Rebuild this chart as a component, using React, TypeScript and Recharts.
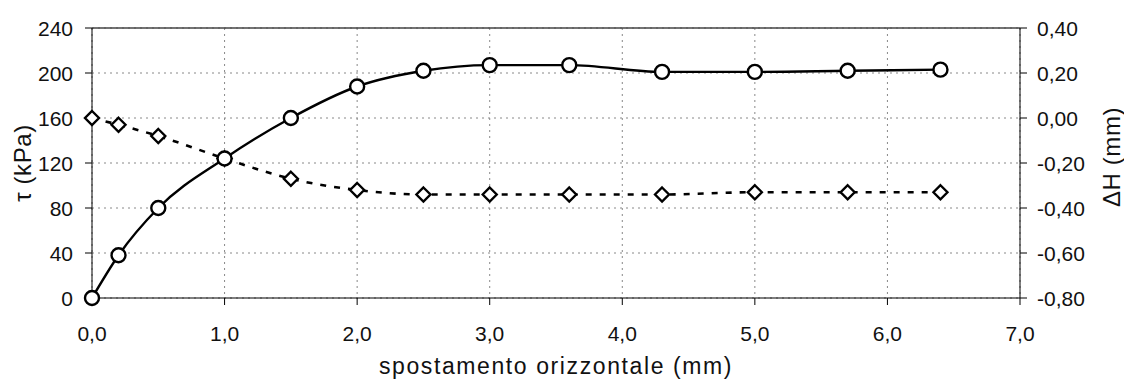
import { ComposedChart, Line, XAxis, YAxis, CartesianGrid, ReferenceLine } from 'recharts';

// spostamento orizzontale (mm)
const displacement = [0, 0.2, 0.5, 1.0, 1.5, 2.0, 2.5, 3.0, 3.6, 4.3, 5.0, 5.7, 6.4];
// tau (kPa)
const tau = [0, 38, 80, 124, 160, 188, 202, 207, 207, 201, 201, 202, 203];
// delta H (mm)
const deltaH = [0, -0.03, -0.08, -0.18, -0.27, -0.32, -0.34, -0.34, -0.34, -0.34, -0.33, -0.33, -0.33];

const xTicks = [0, 1, 2, 3, 4, 5, 6, 7];
const tauTicks = [0, 40, 80, 120, 160, 200, 240];
const dhTicks = [-0.8, -0.6, -0.4, -0.2, 0, 0.2, 0.4];

const data = displacement.map((x, i) => ({ x, tau: tau[i], dh: deltaH[i] }));

const font = '"Liberation Sans", Arial, sans-serif';

const comma = (v: number, d: number) => v.toFixed(d).replace('.', ',');

// tick text, drawn by hand so size and offset are exact
const Tick = (props: any) => {
    const { x, y, payload, side } = props;
    const v = payload.value as number;
    let label = '';
    let tx = x;
    let ty = y;
    let anchor: 'start' | 'middle' | 'end' = 'middle';
    if (side === 'bottom') { label = comma(v, 1); ty = y + 19; }
    if (side === 'left') { label = String(v); tx = x - 10; anchor = 'end'; }
    if (side === 'right') { label = comma(v, 2); tx = x + 8; anchor = 'start'; }
    return (
        <text
            x={tx}
            y={ty}
            textAnchor={anchor}
            dominantBaseline={side === 'bottom' ? 'hanging' : 'central'}
            style={{ fontFamily: font, fontSize: 21, fill: '#111' }}
        >
            {label}
        </text>
    );
};

const Title = (props: any) => {
    const { viewBox, text, side } = props;
    const vb = viewBox || { x: 0, y: 0, width: 0, height: 0 };
    let cx = vb.x + vb.width / 2;
    let cy = vb.y + vb.height / 2;
    let angle = 0;
    if (side === 'left') { cx = 22; angle = -90; }
    if (side === 'right') { cx = 1111; angle = -90; cy = cy - 6; }
    if (side === 'bottom') { cy = 366; }
    return (
        <text
            x={cx}
            y={cy}
            transform={angle ? `rotate(${angle} ${cx} ${cy})` : undefined}
            textAnchor="middle"
            dominantBaseline="central"
            style={{ fontFamily: font, fontSize: side === 'bottom' ? 23 : 24, letterSpacing: side === 'bottom' ? 1.6 : 0.6, fill: '#111' }}
        >
            {text}
        </text>
    );
};

const CircleDot = (props: any) => {
    const { cx, cy, index } = props;
    if (cx == null || cy == null) return <g key={`c-${index}`} />;
    return <circle key={`c-${index}`} cx={cx} cy={cy} r={7} fill="#fff" stroke="#000" strokeWidth={2.4} />;
};

const DiamondDot = (props: any) => {
    const { cx, cy, index } = props;
    if (cx == null || cy == null) return <g key={`d-${index}`} />;
    const s = 7;
    return (
        <path
            key={`d-${index}`}
            d={`M${cx},${cy - s}L${cx + s},${cy}L${cx},${cy + s}L${cx - s},${cy}Z`}
            fill="#fff"
            stroke="#000"
            strokeWidth={2.4}
        />
    );
};

export default function App() {
    return (
        <div style={{ position: 'absolute', left: 0, top: 0, background: '#fff' }}>
            <ComposedChart width={1124} height={383} data={data} margin={{ top: 28, right: 0, bottom: 45, left: 0 }}>
                <CartesianGrid yAxisId="left" stroke="#888" strokeDasharray="2 4" strokeWidth={1} />
                <XAxis
                    dataKey="x"
                    type="number"
                    domain={[0, 7]}
                    ticks={xTicks}
                    interval={0}
                    height={40}
                    tick={<Tick side="bottom" />}
                    tickSize={7}
                    stroke="#000"
                    label={<Title text="spostamento orizzontale (mm)" side="bottom" />}
                />
                <YAxis
                    yAxisId="left"
                    width={92}
                    domain={[0, 240]}
                    ticks={tauTicks}
                    tick={<Tick side="left" />}
                    tickSize={7}
                    stroke="#000"
                    interval={0}
                    label={<Title text="τ (kPa)" side="left" />}
                />
                <YAxis
                    yAxisId="right"
                    orientation="right"
                    width={104}
                    domain={[-0.8, 0.4]}
                    ticks={dhTicks}
                    tick={<Tick side="right" />}
                    tickSize={7}
                    stroke="#000"
                    interval={0}
                    label={<Title text="ΔH (mm)" side="right" />}
                />
                <ReferenceLine yAxisId="left" y={240} stroke="#444" strokeWidth={1.5} />
                <Line
                    yAxisId="right"
                    dataKey="dh"
                    type="monotone"
                    stroke="#000"
                    strokeWidth={2.6}
                    strokeDasharray="6 8"
                    dot={<DiamondDot />}
                    isAnimationActive={false}
                />
                <Line
                    yAxisId="left"
                    dataKey="tau"
                    type="monotone"
                    stroke="#000"
                    strokeWidth={2.4}
                    dot={<CircleDot />}
                    isAnimationActive={false}
                />
            </ComposedChart>
        </div>
    );
}
